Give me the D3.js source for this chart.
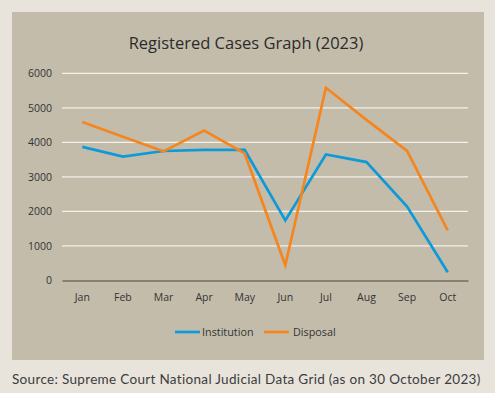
<!DOCTYPE html>
<html><head><meta charset="utf-8">
<script src="https://cdn.jsdelivr.net/npm/d3@7"></script>
<style>
html,body{margin:0;padding:0;background:#e8e4dc;}
svg{display:block;}
</style></head>
<body>
<script>
const months = ["Jan","Feb","Mar","Apr","May","Jun","Jul","Aug","Sep","Oct"];
const institution = [3870, 3590, 3750, 3780, 3780, 1740, 3650, 3430, 2140, 240];
const disposal = [4590, 4160, 3740, 4340, 3680, 440, 5580, 4650, 3750, 1450];
const yTicks = [0, 1000, 2000, 3000, 4000, 5000, 6000];
const seriesNames = ["Institution", "Disposal"];
const colors = ["#0d9ad8", "#f5861f"];

const W = 495, H = 393;
const svg = d3.select("body").append("svg").attr("width", W).attr("height", H);
svg.append("rect").attr("width", W).attr("height", H).attr("fill", "#e8e4dc");
svg.append("rect").attr("x", 12).attr("y", 12).attr("width", 472).attr("height", 348).attr("fill", "#c4bcab");

const font = "'Open Sans', 'Noto Sans', sans-serif";
svg.append("text").attr("x", 246).attr("y", 49).attr("text-anchor", "middle")
  .attr("font-family", font).attr("font-size", 16.5).attr("fill", "#2b2b2b")
  .text("Registered Cases Graph (2023)");

const x = d3.scaleBand().domain(months).range([62, 468]);
const y = d3.scaleLinear().domain([0, 6000]).range([280.5, 73.3]);

// gridlines
svg.append("g").selectAll("line").data(yTicks.filter(d => d > 0)).join("line")
  .attr("x1", 62).attr("x2", 468).attr("y1", d => y(d)).attr("y2", d => y(d))
  .attr("stroke", "#f4f1ea").attr("stroke-width", 1.2);

const yAxis = svg.append("g").attr("transform", "translate(62,0)")
  .call(d3.axisLeft(y).tickValues(yTicks).tickSize(0).tickPadding(10).tickFormat(d3.format("d")));
yAxis.select(".domain").remove();
yAxis.selectAll("text").attr("font-family", font).attr("font-size", 10.5).attr("fill", "#333");

const xAxis = svg.append("g").attr("transform", `translate(0,${y(0)})`)
  .call(d3.axisBottom(x).tickSize(0).tickPadding(13));
xAxis.select(".domain").attr("stroke", "#4a4640").attr("stroke-width", 1.2);
xAxis.selectAll("text").attr("font-family", font).attr("font-size", 10.5).attr("fill", "#333");

const line = d3.line().x((d, i) => x(months[i]) + x.bandwidth() / 2).y(d => y(d));
[institution, disposal].forEach((s, k) => {
  svg.append("path").datum(s).attr("d", line).attr("fill", "none")
    .attr("stroke", colors[k]).attr("stroke-width", 2.7).attr("stroke-linejoin", "miter");
});

// legend
const leg = [{x: 175, tx: 202}, {x: 264, tx: 293}];
seriesNames.forEach((n, k) => {
  svg.append("line").attr("x1", leg[k].x).attr("x2", leg[k].x + 25)
    .attr("y1", 332).attr("y2", 332).attr("stroke", colors[k]).attr("stroke-width", 2.7);
  svg.append("text").attr("x", leg[k].tx).attr("y", 335.5)
    .attr("font-family", font).attr("font-size", 10.8).attr("fill", "#333").text(n);
});

svg.append("text").attr("x", 12).attr("y", 384)
  .attr("font-family", "'Lato', 'Open Sans', sans-serif").attr("font-size", 13.5)
  .attr("letter-spacing", 0.32).attr("fill", "#3c3c3c")
  .text("Source: Supreme Court National Judicial Data Grid (as on 30 October 2023)");
</script>
</body></html>
